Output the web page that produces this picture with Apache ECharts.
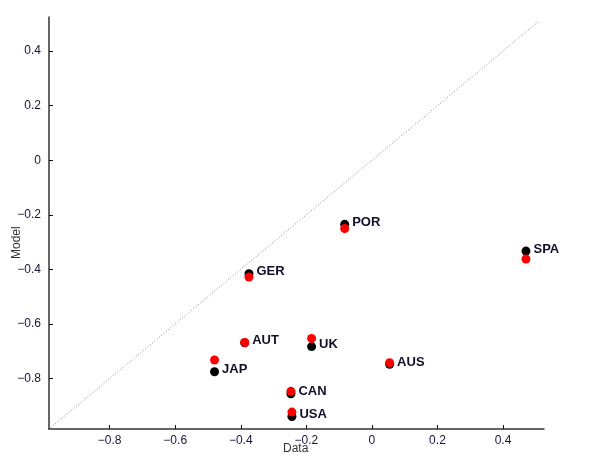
<!DOCTYPE html>
<html>
<head>
<meta charset="utf-8">
<script src="https://cdn.jsdelivr.net/npm/echarts@6/dist/echarts.min.js"></script>
<style>
  html, body { margin: 0; padding: 0; background: #fff; }
  #chart { width: 600px; height: 457px; }
</style>
</head>
<body>
<div id="chart"></div>
<script>
const countries = ['POR', 'SPA', 'GER', 'AUT', 'UK', 'AUS', 'JAP', 'CAN', 'USA'];
const dataX = [-0.083, 0.470, -0.375, -0.388, -0.184, 0.054, -0.480, -0.247, -0.244];
const modelBlack = [-0.235, -0.333, -0.416, -0.669, -0.683, -0.748, -0.775, -0.856, -0.939];
const modelRed = [-0.250, -0.362, -0.428, -0.668, -0.653, -0.742, -0.732, -0.847, -0.923];
const tickValues = [-0.8, -0.6, -0.4, -0.2, 0, 0.2, 0.4];
const diagonal = [-0.98, 0.51];

const chart = echarts.init(document.getElementById('chart'));
const font = '"Liberation Sans", Arial, sans-serif';

function fmt(v) {
    const s = Math.abs(v) < 1e-9 ? '0' : String(Math.round(v * 10) / 10);
    return s.replace('-', '\u2212');
}

const axisCommon = {
    type: 'value',
    min: -0.985,
    max: 0.525,
    splitLine: { show: false },
    axisLine: { show: true, onZero: false, lineStyle: { color: '#333', width: 1.5 } },
    axisTick: { show: true, inside: true, length: 4, customValues: tickValues, lineStyle: { color: '#111' } },
    axisLabel: {
        customValues: tickValues,
        formatter: fmt,
        color: '#15153a',
        fontFamily: font,
        fontSize: 12,
    },
};

const option = {
    animation: false,
    backgroundColor: '#fff',
    grid: { left: 49, right: 56, top: 17, bottom: 28 },
    xAxis: Object.assign({}, axisCommon, {
        axisLabel: Object.assign({}, axisCommon.axisLabel, { margin: 6 }),
    }),
    yAxis: Object.assign({}, axisCommon, {
        axisLabel: Object.assign({}, axisCommon.axisLabel, { margin: 8 }),
    }),
    graphic: [
        {
            type: 'text',
            left: 283,
            top: 443,
            style: { text: 'Data', fill: '#333', font: '12px ' + font },
        },
        {
            type: 'text',
            x: 11,
            y: 259,
            rotation: Math.PI / 2,
            style: { text: 'Model', fill: '#333', font: '12px ' + font },
        },
    ],
    series: [
        {
            type: 'line',
            data: diagonal.map((v) => [v, v]),
            symbol: 'none',
            lineStyle: { color: '#888', width: 1, type: [1, 2] },
            silent: true,
        },
        {
            type: 'scatter',
            symbolSize: 9,
            itemStyle: { color: '#000', opacity: 1 },
            data: dataX.map((x, i) => [x, modelBlack[i]]),
            label: {
                show: true,
                position: 'right',
                distance: 3,
                formatter: (p) => countries[p.dataIndex],
                color: '#10102a',
                fontFamily: font,
                fontWeight: 'bold',
                fontSize: 13,
                offset: [0, -2],
            },
        },
        {
            type: 'scatter',
            symbolSize: 9,
            itemStyle: { color: '#f00', opacity: 1 },
            data: dataX.map((x, i) => [x, modelRed[i]]),
        },
    ],
};

chart.setOption(option);
</script>
</body>
</html>
